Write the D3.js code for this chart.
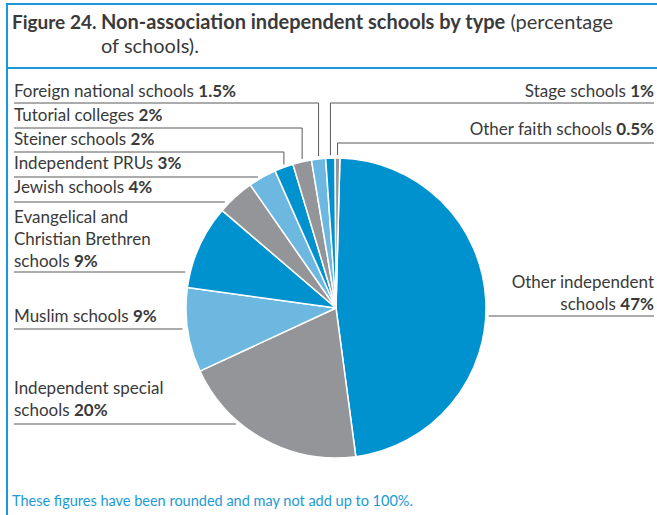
<!DOCTYPE html>
<html>
<head>
<meta charset="utf-8">
<script src="https://cdn.jsdelivr.net/npm/d3@7"></script>
<style>
  html, body { margin: 0; padding: 0; background: #fff; }
  svg { display: block; font-family: Lato, "Open Sans", sans-serif; }
</style>
</head>
<body>
<svg id="chart"></svg>
<script>
// data
const categories = [
  "Other independent schools",
  "Independent special schools",
  "Muslim schools",
  "Evangelical and Christian Brethren schools",
  "Jewish schools",
  "Independent PRUs",
  "Steiner schools",
  "Tutorial colleges",
  "Foreign national schools",
  "Stage schools",
  "Other faith schools"
];
const shares = [47, 20, 9, 9, 4, 3, 2, 2, 1.5, 1, 0.5];
const sliceColors = ["#0091cf", "#939598", "#6cb8e1"];

// label text lines, split like the original
const labelLines = [
  ["Other independent", "schools"],
  ["Independent special", "schools"],
  ["Muslim schools"],
  ["Evangelical and", "Christian Brethren", "schools"],
  ["Jewish schools"],
  ["Independent PRUs"],
  ["Steiner schools"],
  ["Tutorial colleges"],
  ["Foreign national schools"],
  ["Stage schools"],
  ["Other faith schools"]
];

// label placement (layout only)
const labelLayout = [
  { side: "right", y: 288, rule: 316, leader: "h" },
  { side: "left",  y: 394, rule: 424, leader: "h" },
  { side: "left",  y: 322, rule: 329, leader: "h" },
  { side: "left",  y: 223, rule: 272, leader: "h" },
  { side: "left",  y: 193, rule: 202, leader: "h" },
  { side: "left",  y: 169, rule: 177, leader: "h" },
  { side: "left",  y: 145, rule: 152, leader: "v" },
  { side: "left",  y: 121, rule: 128, leader: "v" },
  { side: "left",  y: 97,  rule: 103, leader: "v" },
  { side: "right", y: 97,  rule: 103, leader: "v" },
  { side: "right", y: 135, rule: 143, leader: "v" }
];

const width = 657, height = 515;
const cx = 336, cy = 308, radius = 150;
const leftX = 14, rightX = 654;
const frameColor = "#1a9ad6";
const textColor = "#3a3a3a";

const svg = d3.select("#chart")
  .attr("width", width)
  .attr("height", height);

// frame
svg.append("line").attr("x1", 7).attr("x2", 7).attr("y1", 3).attr("y2", height)
  .attr("stroke", frameColor).attr("stroke-width", 2);
svg.append("line").attr("x1", 6).attr("x2", width).attr("y1", 4).attr("y2", 4)
  .attr("stroke", frameColor).attr("stroke-width", 2);
svg.append("line").attr("x1", 6).attr("x2", width).attr("y1", 68).attr("y2", 68)
  .attr("stroke", frameColor).attr("stroke-width", 2);

// title
const title = svg.append("text")
  .attr("fill", textColor)
  .style("font-size", "20px");
title.append("tspan").attr("x", 12).attr("y", 29)
  .style("font-weight", "bold").style("font-size", "19px").text("Figure 24.");
title.append("tspan").attr("x", 101)
  .style("font-weight", "bold").text("Non-association independent schools by type");
title.append("tspan").text(" (percentage");
title.append("tspan").attr("x", 101).attr("y", 53).text("of schools).");

// pie
const startAngle = 1.5 * Math.PI / 180;
const pie = d3.pie()
  .sort(null)
  .startAngle(startAngle)
  .endAngle(startAngle + 2 * Math.PI);
const arcs = pie(shares);

const arc = d3.arc().innerRadius(0).outerRadius(radius);

const g = svg.append("g").attr("transform", `translate(${cx},${cy})`);
g.selectAll("path")
  .data(arcs)
  .enter().append("path")
  .attr("d", arc)
  .attr("fill", (d, i) => sliceColors[i % 3])
  .attr("stroke", "#fff")
  .attr("stroke-width", 1.5)
  .attr("stroke-linejoin", "round");

// labels and leaders
const leaders = svg.append("g")
  .attr("fill", "none")
  .attr("stroke", "#58595b")
  .attr("stroke-width", 1);

arcs.forEach((a, i) => {
  const lay = labelLayout[i];
  const lines = labelLines[i];
  const anchor = lay.side === "left" ? "start" : "end";
  const tx = lay.side === "left" ? leftX : rightX;

  const t = svg.append("text")
    .attr("fill", textColor)
    .attr("text-anchor", anchor)
    .style("font-size", "17px");
  lines.forEach((ln, k) => {
    t.append("tspan").attr("x", tx).attr("y", lay.y + k * 22).text(ln);
    if (k === lines.length - 1) {
      t.append("tspan").text(" ");
      t.append("tspan").style("font-weight", "bold").text(shares[i] + "%");
    }
  });

  if (lay.leader === "v") {
    const mid = (a.startAngle + a.endAngle) / 2;
    const vx = cx + radius * Math.sin(mid);
    const vy = cy - (radius + 3) * Math.cos(mid);
    const pts = lay.side === "left"
      ? [[leftX, lay.rule], [vx, lay.rule], [vx, vy]]
      : [[rightX, lay.rule], [vx, lay.rule], [vx, vy]];
    leaders.append("path").attr("d", d3.line()(pts));
  } else {
    const dy = lay.rule - cy;
    const dx = Math.sqrt(radius * radius - dy * dy);
    const ex = lay.side === "left" ? cx - dx - 5 : cx + dx + 3;
    leaders.append("line")
      .attr("x1", tx).attr("x2", ex)
      .attr("y1", lay.rule).attr("y2", lay.rule);
  }
});

// footnote
svg.append("text")
  .attr("x", 12).attr("y", 506)
  .attr("fill", "#1a9ad6")
  .style("font-size", "14.5px")
  .text("These figures have been rounded and may not add up to 100%.");
</script>
</body>
</html>
